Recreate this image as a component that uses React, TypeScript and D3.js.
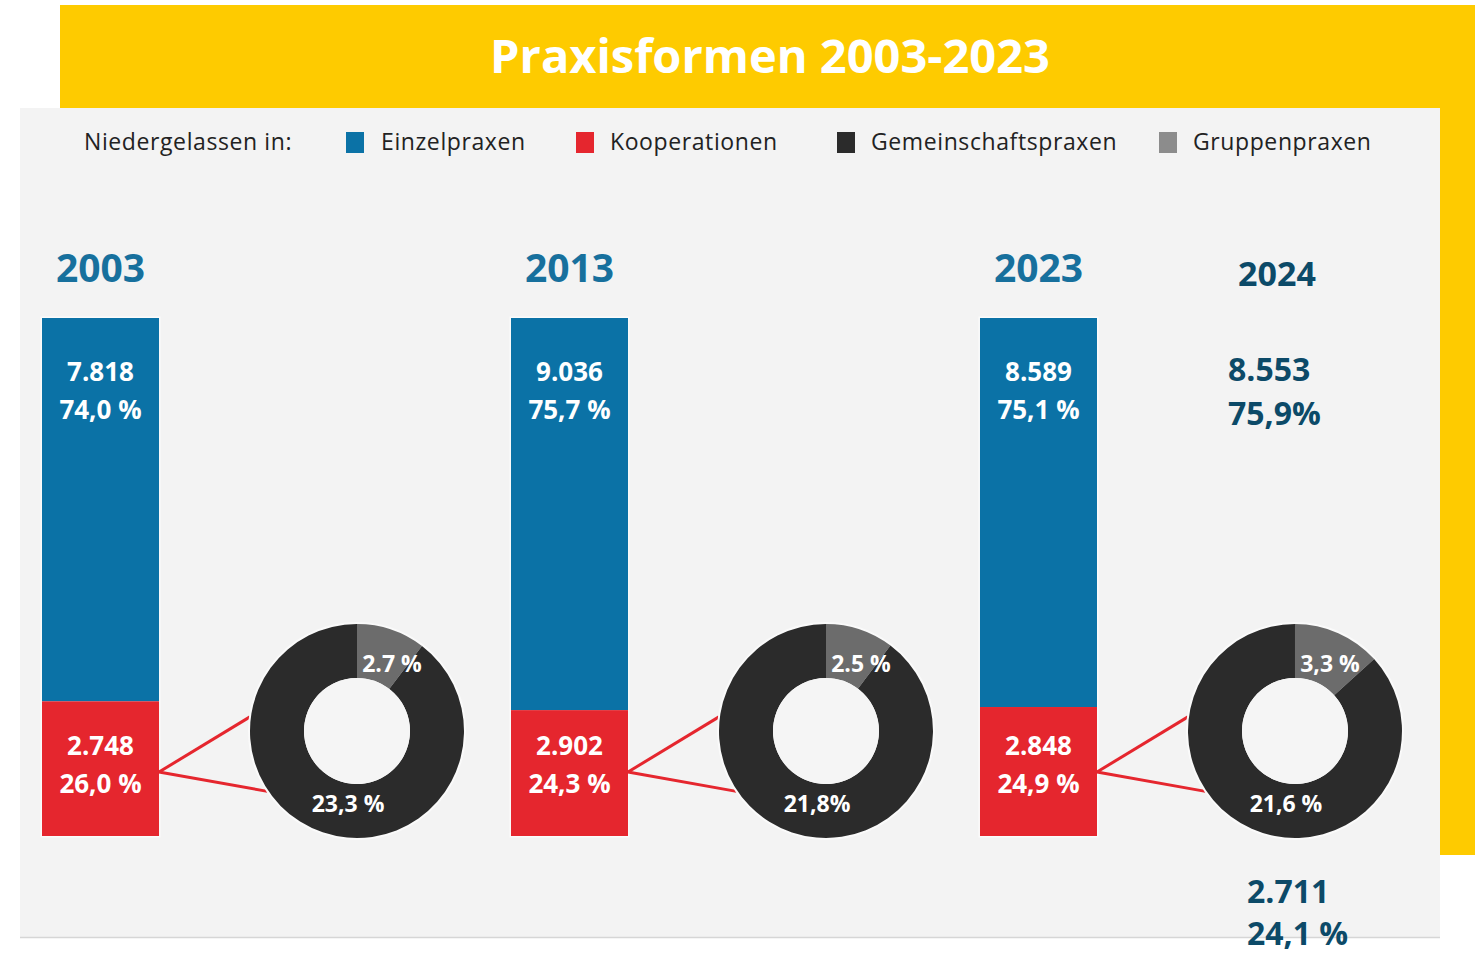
import React from "react";
import * as d3 from "d3";

const years = ["2003", "2013", "2023"];
const einzelValues = [7818, 9036, 8589];
const einzelPct = [74.0, 75.7, 75.1];
const einzelPctLabels = ["74,0 %", "75,7 %", "75,1 %"];
const koopValues = [2748, 2902, 2848];
const koopPct = [26.0, 24.3, 24.9];
const koopPctLabels = ["26,0 %", "24,3 %", "24,9 %"];
const gemeinschaftPct = [23.3, 21.8, 21.6];
const gemeinschaftLabels = ["23,3 %", "21,8%", "21,6 %"];
const gruppenPct = [2.7, 2.5, 3.3];
const gruppenLabels = ["2.7 %", "2.5 %", "3,3 %"];

const legendLabel = "Niedergelassen in:";
const legendItems = ["Einzelpraxen", "Kooperationen", "Gemeinschaftspraxen", "Gruppenpraxen"];
const title = "Praxisformen 2003-2023";

const extraYear = "2024";
const extraEinzel = ["8.553", "75,9%"];
const extraKoop = ["2.711", "24,1 %"];

const C = {
  yellow: "#fecb00",
  panel: "#f3f3f3",
  blue: "#0b72a6",
  red: "#e5262e",
  black: "#2b2b2b",
  grayWedge: "#6c6c6c",
  grayLegend: "#8c8c8c",
  yearBlue: "#17709d",
  navy: "#0c4a68",
  text: "#222",
};
const legendColors = [C.blue, C.red, C.black, C.grayLegend];
const legendSquareX = [346, 576, 837, 1159];
const legendTextX = [381, 610, 871, 1193];

const FONT = "'Open Sans', 'Noto Sans', sans-serif";
const deFormat = d3.formatLocale({ decimal: ",", thousands: ".", grouping: [3], currency: ["", "€"] }).format(",d");

export default function App() {
  const W = 1475, H = 955;
  const x = d3.scaleBand<string>().domain(years).range([42, 1097]).paddingInner(0.7505).paddingOuter(0).align(0);
  const y = d3.scaleLinear().domain([0, 100]).range([836, 318]);
  const bw = x.bandwidth();
  const donutOffset = 315;
  const cy = 731;
  const rOuter = 107, rInner = 53;
  const arc = d3.arc<d3.PieArcDatum<number>>().innerRadius(rInner).outerRadius(rOuter);
  const pie = d3.pie<number>().sort(null).startAngle(0).endAngle(2 * Math.PI);
  const pt = (deg: number, r: number) => {
    const a = (deg * Math.PI) / 180;
    return [Math.sin(a) * r, -Math.cos(a) * r];
  };

  return (
    <svg width={W} height={H} style={{ position: "absolute", left: 0, top: 0 }}>
      {/* yellow background */}
      <rect x={60} y={5} width={1415} height={850} fill={C.yellow} />
      {/* panel */}
      <rect x={20} y={108} width={1420} height={829} fill={C.panel} />
      <line x1={20} x2={1440} y1={937.5} y2={937.5} stroke="#d6d6d6" strokeWidth={1.5} />
      <text x={770} y={73} textAnchor="middle" fill="#fff" fontFamily={FONT} fontWeight={700} fontSize={47}>
        {title}
      </text>
      {/* legend */}
      <text x={84} y={150} fill={C.text} fontFamily={FONT} fontSize={23} letterSpacing={0.6}>{legendLabel}</text>
      {legendItems.map((l, i) => (
        <g key={l}>
          <rect x={legendSquareX[i]} y={132} width={18} height={21} fill={legendColors[i]} />
          <text x={legendTextX[i]} y={150} fill={C.text} fontFamily={FONT} fontSize={23} letterSpacing={0.6}>{l}</text>
        </g>
      ))}
      {years.map((yr, i) => {
        const bx = x(yr)!;
        const cx = bx + donutOffset;
        const arcs = pie([gruppenPct[i], gemeinschaftPct[i]]);
        const p1 = pt(277.5, rOuter + 1);
        const p2 = pt(236, rOuter + 1);
        const lineY = 772;
        return (
          <g key={yr}>
            <text x={bx + bw / 2} y={282} textAnchor="middle" fill={C.yearBlue} fontFamily={FONT} fontWeight={700} fontSize={39}>
              {yr}
            </text>
            <rect x={bx - 1.5} y={y(100) - 1.5} width={bw + 3} height={y(0) - y(100) + 3} fill="#fbfbfb" />
            <rect x={bx} y={y(100)} width={bw} height={y(koopPct[i]) - y(100)} fill={C.blue} />
            <rect x={bx} y={y(koopPct[i])} width={bw} height={y(0) - y(koopPct[i])} fill={C.red} />
            <text x={bx + bw / 2} y={381} textAnchor="middle" fill="#fff" fontFamily={FONT} fontWeight={700} fontSize={26}>
              {deFormat(einzelValues[i])}
            </text>
            <text x={bx + bw / 2} y={419} textAnchor="middle" fill="#fff" fontFamily={FONT} fontWeight={700} fontSize={26}>
              {einzelPctLabels[i]}
            </text>
            <text x={bx + bw / 2} y={755} textAnchor="middle" fill="#fff" fontFamily={FONT} fontWeight={700} fontSize={26}>
              {deFormat(koopValues[i])}
            </text>
            <text x={bx + bw / 2} y={793} textAnchor="middle" fill="#fff" fontFamily={FONT} fontWeight={700} fontSize={26}>
              {koopPctLabels[i]}
            </text>
            {/* connectors */}
            <line x1={bx + bw} y1={lineY} x2={cx + p1[0]} y2={cy + p1[1]} stroke={C.red} strokeWidth={3} />
            <line x1={bx + bw} y1={lineY} x2={cx + p2[0]} y2={cy + p2[1]} stroke={C.red} strokeWidth={3} />
            {/* donut */}
            <g transform={`translate(${cx},${cy})`}>
              <circle r={rOuter + 2} fill="#fafafa" />
              {arcs.map((a, j) => (
                <path key={j} d={arc(a)!} fill={j === 0 ? C.grayWedge : C.black} />
              ))}
              <circle r={rInner} fill="#f5f5f5" />
              <text x={35} y={-59} textAnchor="middle" fill="#fff" fontFamily={FONT} fontWeight={700} fontSize={23}>
                {gruppenLabels[i]}
              </text>
              <text x={-9} y={81} textAnchor="middle" fill="#fff" fontFamily={FONT} fontWeight={700} fontSize={23}>
                {gemeinschaftLabels[i]}
              </text>
            </g>
          </g>
        );
      })}
      {/* 2024 annotation */}
      <text x={1277} y={286} textAnchor="middle" fill={C.navy} fontFamily={FONT} fontWeight={700} fontSize={34}>{extraYear}</text>
      <text x={1228} y={381} fill={C.navy} fontFamily={FONT} fontWeight={700} fontSize={32}>{extraEinzel[0]}</text>
      <text x={1228} y={425} fill={C.navy} fontFamily={FONT} fontWeight={700} fontSize={32}>{extraEinzel[1]}</text>
      <text x={1247} y={903} fill={C.navy} fontFamily={FONT} fontWeight={700} fontSize={32}>{extraKoop[0]}</text>
      <text x={1247} y={945} fill={C.navy} fontFamily={FONT} fontWeight={700} fontSize={32}>{extraKoop[1]}</text>
    </svg>
  );
}
